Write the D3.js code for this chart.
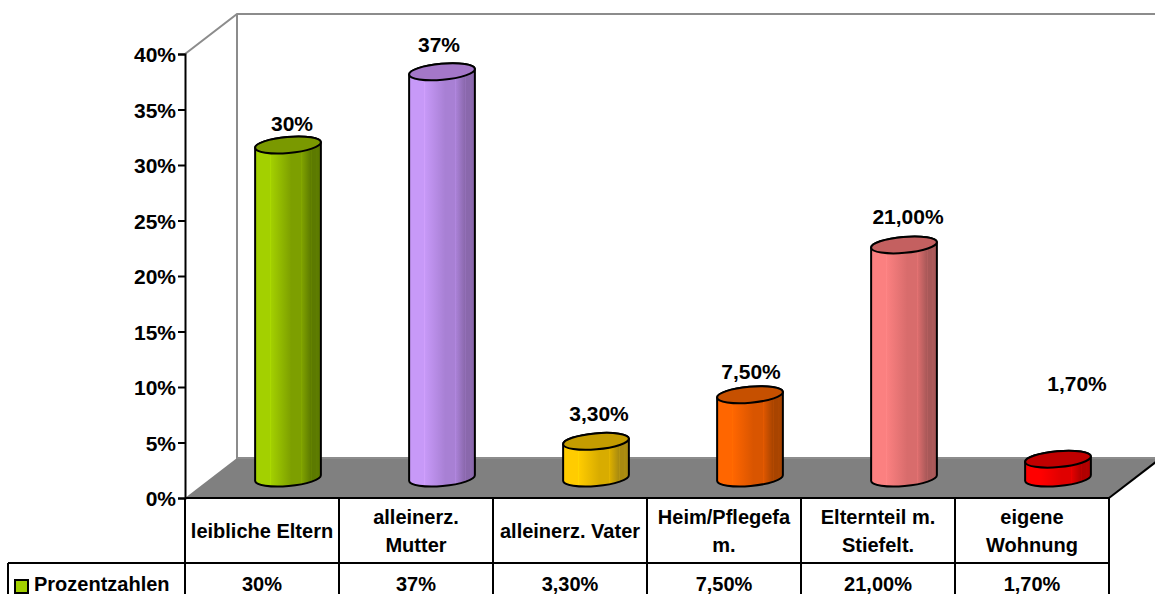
<!DOCTYPE html>
<html><head><meta charset="utf-8">
<script src="https://cdn.jsdelivr.net/npm/d3@7"></script>
<style>html,body{margin:0;padding:0;background:#fff}svg{display:block}text{font-family:"Liberation Sans",Arial,sans-serif;font-weight:bold;fill:#000;font-size:20px}</style>
</head><body><div id="c"></div>
<script>
const categories=[["leibliche Eltern"],["alleinerz.","Mutter"],["alleinerz. Vater"],["Heim/Pflegefa","m."],["Elternteil m.","Stiefelt."],["eigene","Wohnung"]];
const values=[30,36.6,3.3,7.5,21,1.7];
const valueLabels=["30%","37%","3,30%","7,50%","21,00%","1,70%"];
const seriesName="Prozentzahlen";
const tickValues=[0,5,10,15,20,25,30,35,40];
const palette=[["#a3d000","#7d9f00","#5c7a00","#7a9900"],["#c799f8","#a880d4","#8a68ac","#a477c8"],["#ffcc00","#d8ac00","#a88a10","#c49c00"],["#ff6600","#d95500","#a84400","#c65000"],["#fb8080","#d86c6c","#a85858","#c46060"],["#ff0000","#e00000","#b00000","#c00000"]];
const labelNudge=[[4,-21],[-3,-27],[3,-28],[1,-23],[4,-28],[19,-75]];

const W=1155,H=594,L=185,R=1109,Y0=498,Y40=54,DX=52,DY=-40,rowA=563,legendL=8;
const svg=d3.select("#c").append("svg").attr("width",W).attr("height",H);
const x=d3.scaleBand().domain(d3.range(categories.length)).range([L,R]);
const y=d3.scaleLinear().domain([0,40]).range([Y0,Y40]);

// walls and floor
svg.append("polygon").attr("points",[[L,Y0],[R,Y0],[R+DX,Y0+DY],[L+DX,Y0+DY]].join(" ")).attr("fill","#808080");
const g=svg.append("g").attr("fill","none").attr("stroke","#8c8c8c").attr("stroke-width",2);
g.append("path").attr("d",`M${L},${Y40}L${L+DX},${Y40+DY}H${W}M${L+DX},${Y40+DY}V${Y0+DY}H${W}`);
svg.append("path").attr("d",`M${R},${Y0}L${R+DX},${Y0+DY}`).attr("stroke","#000").attr("stroke-width",2);

// gradients
const defs=svg.append("defs");
palette.forEach((p,i)=>{
  const gr=defs.append("linearGradient").attr("id","g"+i);
  const stops=[[0,p[0]],[.22,p[0]],[.23,d3.color(p[0]).brighter(.2)],[.24,p[0]],[.55,p[1]],[.7,p[1]],[.71,d3.color(p[1]).brighter(.25)],[.72,p[1]],[.85,p[2]],[.86,d3.color(p[2]).brighter(.25)],[.87,p[2]],[.93,p[2]],[.94,d3.color(p[2]).brighter(.2)],[.95,p[2]],[1,p[2]]];
  stops.forEach(s=>gr.append("stop").attr("offset",s[0]).attr("stop-color",s[1]));
});

// cylinders
const rx=33,ry=8,rot=-5,tx=rx*Math.cos(rot*Math.PI/180),ty=rx*Math.sin(rot*Math.PI/180);
const base=DY/2;
values.forEach((v,i)=>{
  const cx=x(i)+x.bandwidth()/2+DX/2, yb=y(0)+base, yt=y(v)+base;
  const c=svg.append("g").attr("stroke","#000").attr("stroke-width",2);
  c.append("path").attr("fill",`url(#g${i})`)
   .attr("d",`M${cx-tx},${yt-ty}L${cx-tx},${yb-ty}A${rx},${ry},${rot},0,0,${cx+tx},${yb+ty}L${cx+tx},${yt+ty}A${rx},${ry},${rot},0,0,${cx-tx},${yt-ty}Z`);
  c.append("ellipse").attr("rx",rx).attr("ry",ry).attr("fill",palette[i][3])
   .attr("transform",`translate(${cx},${yt}) rotate(${rot})`);
  svg.append("text").attr("x",cx+labelNudge[i][0]).attr("y",yt+labelNudge[i][1]).attr("text-anchor","middle").attr("dy",".35em").style("font-size","21px").text(valueLabels[i]);
});

// axis
const ax=svg.append("g").attr("transform",`translate(${L},0)`).call(d3.axisLeft(y).tickValues(tickValues).tickFormat(d=>d+"%").tickSize(7).tickPadding(2));
ax.selectAll("path,line").attr("stroke","#000").attr("stroke-width",2);
ax.selectAll("text").style("font-size","21px").style("font-family","'Liberation Sans',Arial,sans-serif").style("font-weight","bold").attr("fill","#000").attr("dy","0.37em");

// data table
const t=svg.append("g").attr("stroke","#000").attr("stroke-width",2);
t.append("path").attr("fill","none").attr("d",`M${L},${Y0}H${R}M${legendL},${rowA}H${R}M${legendL},${rowA}V${H+2}`);
d3.range(categories.length+1).forEach(i=>{
  const px=i<categories.length?x(i):R;
  t.append("line").attr("x1",px).attr("x2",px).attr("y1",Y0).attr("y2",H+2);
});
categories.forEach((lines,i)=>{
  const cx=x(i)+x.bandwidth()/2;
  const start=lines.length===1?531:517;
  lines.forEach((s,j)=>svg.append("text").attr("x",cx).attr("y",start+j*28).attr("dy",".35em").attr("text-anchor","middle").text(s));
  svg.append("text").attr("x",cx).attr("y",584).attr("dy",".35em").attr("text-anchor","middle").text(valueLabels[i]);
});
svg.append("rect").attr("x",15).attr("y",580).attr("width",13).attr("height",13).attr("fill",palette[0][0]).attr("stroke","#000").attr("stroke-width",2);
svg.append("text").attr("x",34).attr("y",584).attr("dy",".35em").text(seriesName);
</script></body></html>
